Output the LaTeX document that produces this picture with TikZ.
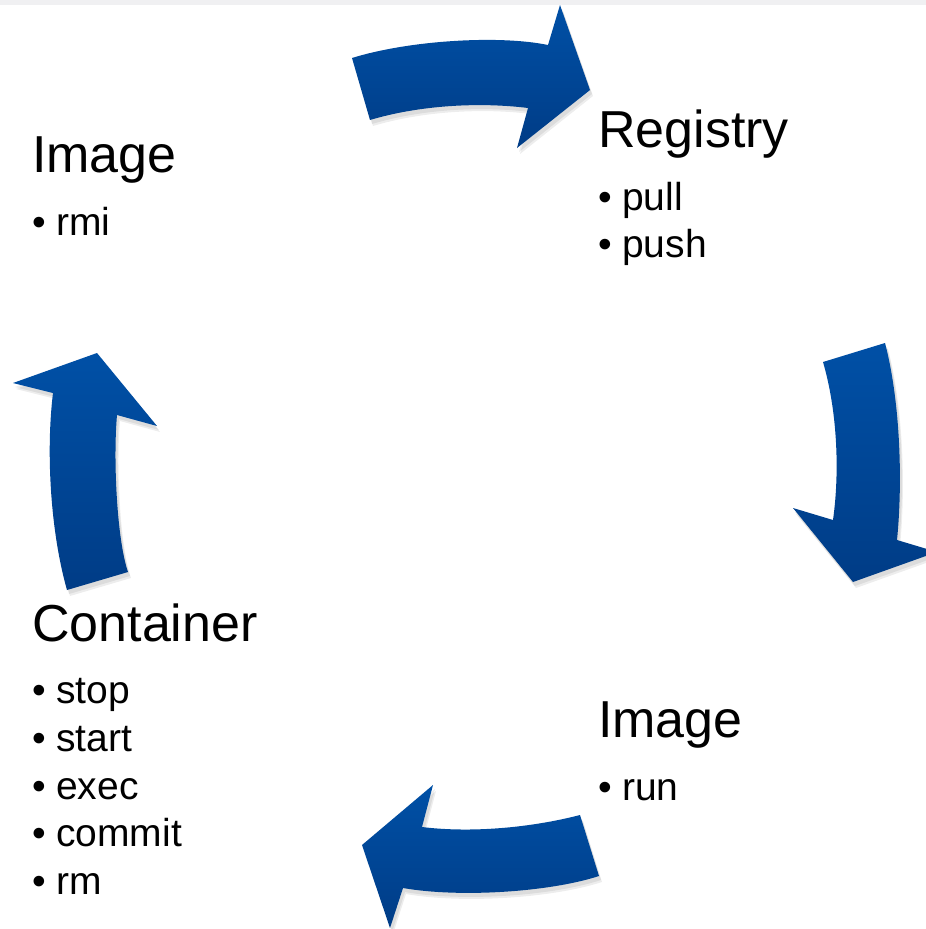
\documentclass[tikz,border=0pt]{standalone}
\usepackage{fontspec}
\setmainfont{Liberation Sans}
\definecolor{arrowtop}{RGB}{0,80,166}
\definecolor{arrowbot}{RGB}{0,60,134}
\definecolor{topbar}{RGB}{240,240,242}

\tikzset{
  title/.style={anchor=base west, inner sep=0pt, font=\fontsize{52}{62}\selectfont},
  item/.style={anchor=base west, inner sep=0pt, font=\fontsize{39}{47}\selectfont},
  blockarrow/.style={top color=arrowtop, bottom color=arrowbot, draw=none},
  arrowshade/.style={fill=black, opacity=0.07, draw=none},
  % outlines of the four curved block arrows (pixel-like units, y downwards)
  arrowN/.style={insert path={(352,58) .. controls (410,40) and (500,35) .. (548,45)
      -- (560,5) -- (590,90) -- (517,148) -- (528,108)
      .. controls (480,102) and (420,105) .. (370,120) -- cycle}},
  arrowE/.style={insert path={(823,362) -- (885,343)
      .. controls (900,400) and (903,480) .. (897,540)
      -- (937,552) -- (853,582) -- (793,508) -- (833,520)
      .. controls (840,470) and (837,410) .. (823,362) -- cycle}},
  arrowS/.style={insert path={(580,815) -- (599,876)
      .. controls (550,892) and (460,898) .. (403,888)
      -- (390,928) -- (362,845) -- (433,785) -- (422,827)
      .. controls (470,833) and (530,828) .. (580,815) -- cycle}},
  arrowW/.style={insert path={(67,590) -- (128,572)
      .. controls (117,540) and (113,460) .. (117,415)
      -- (157,426) -- (97,353) -- (13,383) -- (53,393)
      .. controls (46,450) and (50,530) .. (67,590) -- cycle}},
}
\newcommand{\bulitem}[1]{\makebox[24pt][l]{\textbullet}#1}

\begin{document}
\begin{tikzpicture}[x=1pt, y=-1pt]
  \useasboundingbox (0,0) rectangle (926,929);
  \fill[white] (0,0) rectangle (926,929);
  \fill[topbar] (0,0) rectangle (926,5);

  % soft shadows under the arrows
  \foreach \s in {arrowN,arrowE,arrowS,arrowW}{
    \path[arrowshade, shift={(2,4)}, \s];
    \path[arrowshade, shift={(3,6)}, \s];
  }
  % the arrows
  \path[blockarrow, arrowN];
  \path[blockarrow, arrowE];
  \path[blockarrow, arrowS];
  \path[blockarrow, arrowW];

  % Image (top left)
  \node[title] (imgA) at (32,172) {Image};
  \node[item] (imgArmi) at (32,235) {\bulitem{rmi}};

  % Registry
  \node[title] (reg) at (598,147) {Registry};
  \node[item] (regpull) at (598,210) {\bulitem{pull}};
  \node[item] (regpush) at (598,257) {\bulitem{push}};

  % Image (bottom right)
  \node[title] (imgB) at (598,737) {Image};
  \node[item] (imgBrun) at (598,800) {\bulitem{run}};

  % Container
  \node[title] (cont) at (32,641) {Container};
  \node[item] (cstop) at (32,703) {\bulitem{stop}};
  \node[item] (cstart) at (32,751) {\bulitem{start}};
  \node[item] (cexec) at (32,799) {\bulitem{exec}};
  \node[item] (ccommit) at (32,846) {\bulitem{commit}};
  \node[item] (crm) at (32,894) {\bulitem{rm}};
\end{tikzpicture}
\end{document}
